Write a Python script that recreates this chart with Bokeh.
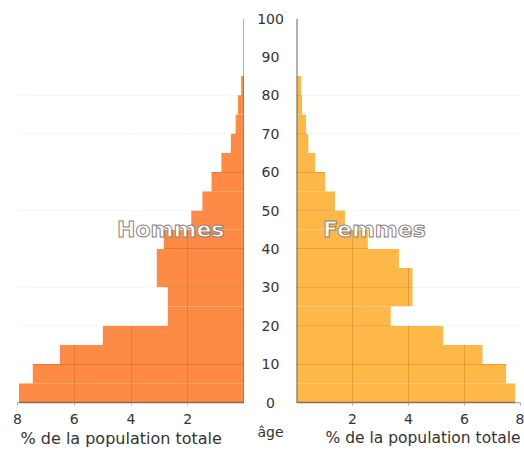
from bokeh.plotting import figure
from bokeh.models import Range1d, Span, LabelSet, Label, ColumnDataSource, FixedTicker, Title
from bokeh.layouts import row, column
from bokeh.embed import file_html
from bokeh.resources import INLINE
from bokeh.core.properties import value

# age groups (lower bound of each 5-year band)
ages = [0, 5, 10, 15, 20, 25, 30, 35, 40, 45, 50, 55, 60, 65, 70, 75, 80]
hommes = [7.95, 7.47, 6.51, 5.00, 2.71, 2.71, 3.10, 3.10, 2.85, 1.88, 1.49, 1.17, 0.82, 0.49, 0.32, 0.24, 0.12]
femmes = [7.81, 7.49, 6.65, 5.24, 3.37, 4.15, 4.15, 3.66, 2.55, 1.73, 1.38, 1.02, 0.67, 0.43, 0.35, 0.20, 0.18]
age_ticks = [0, 10, 20, 30, 40, 50, 60, 70, 80, 90, 100]
pct_ticks = [2, 4, 6, 8]
band = 5
pct_max = 8
age_max = 100
x_title = "% de la population totale"
age_title = "âge"

FONT = "DejaVu Sans"
TXT = "#333333"
C_H = "#FD8B45"
C_F = "#FEB848"

src = ColumnDataSource(dict(age=ages, top=[a + band for a in ages], h=hommes, f=femmes,
                            full=[pct_max] * len(ages)))
yr = Range1d(0, age_max)
TOP, BOT = 18, 50
FRAME_H = 384
H = TOP + FRAME_H + BOT


def style(p, col, color, label_x, label, title_offset, title_size):
    p.outline_line_color = None
    p.background_fill_color = "white"
    p.border_fill_color = "white"
    ax = p.xaxis[0]
    ax.ticker = FixedTicker(ticks=pct_ticks)
    ax.major_label_text_font = FONT
    ax.major_label_text_font_size = "14px"
    ax.major_label_text_color = TXT
    ax.major_label_standoff = 8
    ax.major_tick_in = 0
    ax.major_tick_out = 3
    ax.major_tick_line_color = "#aaaaaa"
    ax.minor_tick_line_color = None
    ax.axis_line_color = "#8a6a50"
    ax.axis_line_width = 1.5
    p.add_layout(Title(text=x_title, align="left", offset=title_offset, standoff=0,
                       text_font=FONT, text_font_size=title_size, text_font_style="normal",
                       text_color=TXT), "below")
    p.xgrid.ticker = FixedTicker(ticks=[2, 4, 6])
    p.ygrid.ticker = FixedTicker(ticks=age_ticks[1:-2])
    for g in (p.xgrid[0], p.ygrid[0]):
        g.level = "annotation"
        g.grid_line_color = "#7a3a10"
        g.grid_line_alpha = 0.2
    try:
        p.xgrid[0].cross_bounds = (0, ages[-1] + band)
    except Exception:
        pass
    # bars
    p.quad(left=0, right=col, bottom="age", top="top", source=src,
           fill_color=color, line_color=None)
    # white remainder of each band hides the grid outside the bars
    cover = p.quad(left=col, right="full", bottom="age", top="top", source=src,
                   fill_color="white", line_color=None)
    cover.level = "overlay"
    t = p.text(x=[label_x], y=[45], text=[label], text_align="center", text_baseline="middle",
               text_font=value(FONT), text_font_size="22px", text_font_style="bold",
               text_color="white", text_outline_color="#8c7f7f")
    t.level = "overlay"
    p.add_layout(Span(location=0, dimension="height", line_color="#666666", line_width=2))


left = figure(width=17 + 227, height=H, x_range=Range1d(pct_max, 0), y_range=yr,
              y_axis_location=None, output_backend="svg", toolbar_location=None,
              min_border_left=17, min_border_right=0, min_border_top=TOP, min_border_bottom=BOT)
style(left, "h", C_H, 2.6, "Hommes", 3, "16px")

right = figure(width=224 + 4, height=H, x_range=Range1d(0, pct_max), y_range=yr,
               y_axis_location=None, output_backend="svg", toolbar_location=None,
               min_border_left=0, min_border_right=4, min_border_top=TOP, min_border_bottom=BOT)
style(right, "f", C_F, 2.78, "Femmes", 29, "15.5px")

# middle column: same vertical scale, frame spanning the whole height
ppu = FRAME_H / age_max
mid = figure(width=52, height=H, x_range=Range1d(0, 1),
             y_range=Range1d(-BOT / ppu, age_max + TOP / ppu),
             x_axis_location=None, y_axis_location=None, output_backend="svg",
             toolbar_location=None, min_border_left=0, min_border_right=0,
             min_border_top=0, min_border_bottom=0)
mid.outline_line_color = None
mid.xgrid.visible = False
mid.ygrid.visible = False
lsrc = ColumnDataSource(dict(x=[0.5] * len(age_ticks), y=age_ticks, t=[str(a) for a in age_ticks]))
mid.add_layout(LabelSet(x="x", y="y", text="t", source=lsrc, text_align="center",
                        text_baseline="middle", text_font=value(FONT), text_font_size="14px",
                        text_color=TXT))
mid.add_layout(Label(x=0.5, y=-7.6, text=age_title, text_align="center", text_baseline="middle",
                     text_font=FONT, text_font_size="14px", text_color=TXT))

layout = row(left, column(mid), right)
open("out.html", "w").write(file_html(layout, INLINE))
